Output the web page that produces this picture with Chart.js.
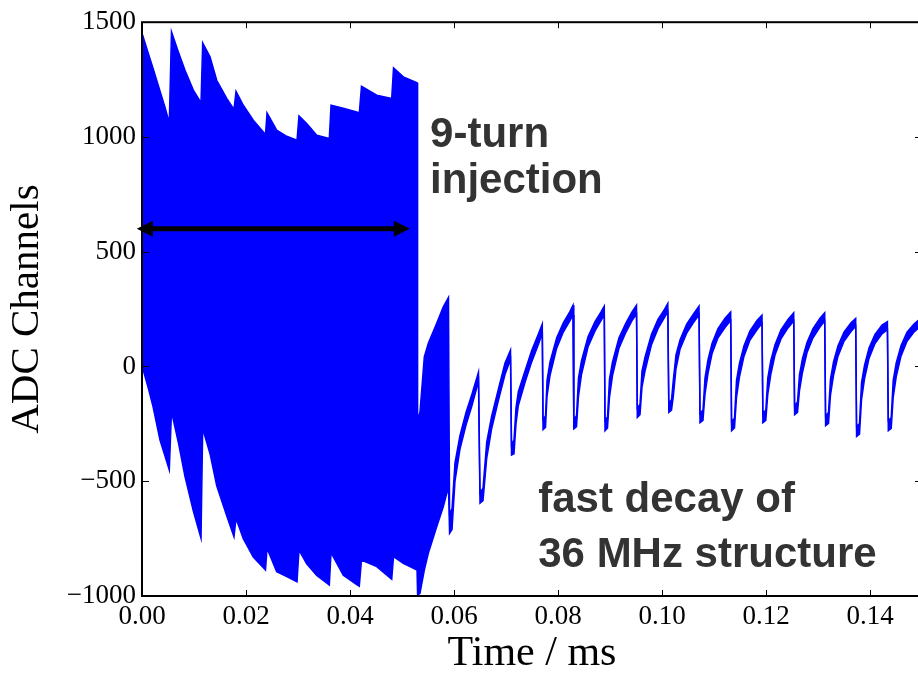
<!DOCTYPE html>
<html>
<head>
<meta charset="utf-8">
<script src="https://cdn.jsdelivr.net/npm/chart.js@4.4.1/dist/chart.umd.min.js"></script>
<style>
  html, body { margin: 0; padding: 0; overflow: hidden; background: #fff; }
  #wrap { width: 926px; height: 673px; }
</style>
</head>
<body>
<div id="wrap"><canvas id="myChart"></canvas></div>
<script>
// tick values
var xTicks = [0, 0.02, 0.04, 0.06, 0.08, 0.10, 0.12, 0.14];
var yTicks = [-1000, -500, 0, 500, 1000, 1500];

// time (ms) with upper / lower envelope of the ADC signal
var time = [
  // 9-turn injection
  0.0001, 0.00122, 0.00212, 0.00346, 0.00442, 0.00525, 0.00567, 0.00698, 0.00827, 0.00987, 0.01135,
  0.01167, 0.01308, 0.01437, 0.01629, 0.01769, 0.01808, 0.01948, 0.02140, 0.02375,
  0.02404, 0.02590, 0.02783, 0.02981, 0.03019, 0.03167, 0.03360, 0.03602, 0.03635,
  0.03871, 0.04129, 0.04179, 0.04221, 0.04514, 0.04802, 0.04837, 0.05025, 0.05289,
  // end of injection
  0.05300, 0.05346, 0.05429, 0.05506, 0.05667, 0.05794, 0.05894,
  // decay cycles
  0.05915, 0.05962, 0.06019, 0.06115, 0.06231, 0.06346, 0.06471,
  0.06500, 0.06558, 0.06629, 0.06725, 0.06852, 0.06981, 0.07087,
  0.07106, 0.07154, 0.07192, 0.07237, 0.07365, 0.07494, 0.07621, 0.07698,
  0.07712, 0.07760, 0.07789, 0.07846, 0.07975, 0.08102, 0.08231, 0.08289,
  0.08304, 0.08356, 0.08394, 0.08452, 0.08577, 0.08712, 0.08827, 0.08890,
  0.08904, 0.08952, 0.08990, 0.09048, 0.09173, 0.09308, 0.09423, 0.09510,
  0.09525, 0.09577, 0.09615, 0.09673, 0.09798, 0.09923, 0.10038, 0.10112,
  0.10131, 0.10183, 0.10217, 0.10269, 0.10346, 0.10475, 0.10602, 0.10712,
  0.10731, 0.10788, 0.10827, 0.10885, 0.10962, 0.11077, 0.11212, 0.11321,
  0.11338, 0.11394, 0.11433, 0.11490, 0.11577, 0.11692, 0.11827, 0.11923,
  0.11940, 0.11996, 0.12035, 0.12092, 0.12173, 0.12288, 0.12423, 0.12533,
  0.12550, 0.12606, 0.12644, 0.12702, 0.12788, 0.12904, 0.13038, 0.13129,
  0.13146, 0.13202, 0.13240, 0.13298, 0.13385, 0.13500, 0.13635, 0.13725,
  0.13742, 0.13798, 0.13837, 0.13894, 0.13981, 0.14096, 0.14231, 0.14335,
  0.14352, 0.14408, 0.14446, 0.14504, 0.14596, 0.14712, 0.14846, 0.14923, 0.15000
];

var upper = [
  1445, 1364, 1300, 1200, 1130, 1061, 1458, 1371, 1291, 1204, 1149,
  1410, 1349, 1247, 1168, 1120, 1199, 1138, 1073, 1011,
  1105, 1030, 1003, 986, 1092, 1059, 1008, 993, 1138,
  1125, 1109, 1105, 1221, 1182, 1168, 1301, 1262, 1236,
  -241, -197, 42, 101, 188, 260, 301,
  -640, -620, -420, -300, -200, -120, -25,
  -550, -530, -330, -215, -100, 15, 71,
  -340, -320, -180, -110, -20, 70, 140, 185,
  -230, -215, -60, 20, 125, 190, 240, 267,
  -230, -215, -50, 25, 130, 195, 238, 263,
  -235, -220, -55, 20, 125, 190, 238, 267,
  -180, -165, -20, 40, 140, 205, 245, 275,
  -160, -145, -60, 50, 115, 185, 228, 263,
  -205, -190, -50, 30, 100, 165, 210, 238,
  -240, -225, -60, 15, 90, 155, 200, 224,
  -205, -190, -50, 25, 95, 160, 205, 234,
  -170, -155, -35, 35, 105, 165, 210, 234,
  -215, -200, -55, 20, 90, 150, 190, 209,
  -262, -248, -70, 5, 80, 140, 180, 195,
  -235, -222, -60, 15, 90, 150, 185, 200, 212
];

var lower = [
  -5, -95, -175, -321, -390, -451, -197, -330, -480, -630, -749,
  -270, -380, -520, -650, -742, -662, -750, -830, -887,
  -792, -894, -915, -938, -800, -860, -910, -952, -811,
  -909, -950, -957, -843, -872, -927, -829, -858, -887,
  -996, -988, -887, -814, -698, -611, -524,
  -727, -710, -500, -360, -255, -170, -65,
  -596, -585, -400, -270, -150, -35, 30,
  -386, -380, -250, -170, -70, 20, 95, 145,
  -275, -265, -130, -40, 80, 150, 200, 225,
  -272, -262, -130, -35, 85, 155, 200, 225,
  -280, -268, -135, -40, 80, 150, 200, 228,
  -222, -210, -90, -20, 95, 165, 210, 238,
  -200, -190, -132, -10, 75, 145, 190, 225,
  -245, -235, -120, -30, 55, 125, 170, 200,
  -280, -268, -135, -45, 45, 115, 160, 188,
  -245, -235, -120, -35, 50, 120, 168, 198,
  -210, -200, -105, -25, 60, 125, 172, 198,
  -258, -248, -125, -40, 45, 110, 152, 175,
  -305, -295, -145, -55, 35, 100, 142, 160,
  -280, -270, -135, -45, 45, 110, 150, 165, 177
];

// annotations
var arrowSpan = [-0.001, 0.0515];
var arrowLevel = 600;
var notes = [
  { text: '9-turn', x: 0.0554, y: 957 },
  { text: 'injection', x: 0.0554, y: 755 },
  { text: 'fast decay of', x: 0.0762, y: -633 },
  { text: '36 MHz structure', x: 0.0762, y: -872 }
];

var serif = '"Liberation Serif", "Times New Roman", serif';

function fmtY(v) {
  return v < 0 ? '\u2212' + Math.abs(v) : String(v);
}

var framePlugin = {
  id: 'frame',
  afterDraw: function(chart) {
    var ctx = chart.ctx;
    var a = chart.chartArea;
    var xs = chart.scales.x, ys = chart.scales.y;
    ctx.save();
    ctx.strokeStyle = '#000';
    // ticks
    ctx.lineWidth = 1;
    ctx.beginPath();
    xTicks.forEach(function(v) {
      var px = Math.round(xs.getPixelForValue(v)) + 0.5;
      ctx.moveTo(px, a.bottom); ctx.lineTo(px, a.bottom - 6);
      ctx.moveTo(px, a.top); ctx.lineTo(px, a.top + 6);
    });
    yTicks.forEach(function(v) {
      var py = Math.round(ys.getPixelForValue(v)) + 0.5;
      ctx.moveTo(a.left, py); ctx.lineTo(a.left + 7, py);
      ctx.moveTo(a.right, py); ctx.lineTo(a.right - 7, py);
    });
    ctx.stroke();
    // frame
    ctx.lineWidth = 2;
    ctx.strokeRect(a.left, a.top, a.right - a.left, a.bottom - a.top);

    // double arrow
    var x1 = xs.getPixelForValue(arrowSpan[0]);
    var x2 = xs.getPixelForValue(arrowSpan[1]);
    var y = ys.getPixelForValue(arrowLevel);
    var hl = 16, hw = 8;
    ctx.lineWidth = 5;
    ctx.beginPath();
    ctx.moveTo(x1 + hl - 2, y); ctx.lineTo(x2 - hl + 2, y);
    ctx.stroke();
    ctx.fillStyle = '#000';
    ctx.beginPath();
    ctx.moveTo(x1, y); ctx.lineTo(x1 + hl, y - hw); ctx.lineTo(x1 + hl, y + hw); ctx.closePath();
    ctx.moveTo(x2, y); ctx.lineTo(x2 - hl, y - hw); ctx.lineTo(x2 - hl, y + hw); ctx.closePath();
    ctx.fill();

    // text notes
    ctx.fillStyle = '#333333';
    ctx.font = 'bold 42px "Liberation Sans", Arial, sans-serif';
    ctx.textAlign = 'left';
    ctx.textBaseline = 'alphabetic';
    notes.forEach(function(n) {
      ctx.fillText(n.text, xs.getPixelForValue(n.x), ys.getPixelForValue(n.y));
    });
    ctx.restore();
  }
};

function getChart() {
  var upperPts = time.map(function(t, i) { return { x: t, y: upper[i] }; });
  var lowerPts = time.map(function(t, i) { return { x: t, y: lower[i] }; });

  var ctx = document.getElementById('myChart').getContext('2d');
  var myChart = new Chart(ctx, {
    type: 'line',
    data: {
      datasets: [{
        label: 'upper',
        data: upperPts,
        borderColor: '#0000ff',
        borderWidth: 1.5,
        pointRadius: 0,
        fill: false,
        tension: 0
      }, {
        label: 'lower',
        data: lowerPts,
        borderColor: '#0000ff',
        backgroundColor: '#0000ff',
        borderWidth: 1.5,
        pointRadius: 0,
        fill: '-1',
        tension: 0
      }]
    },
    options: {
      responsive: true,
      maintainAspectRatio: false,
      animation: false,
      layout: { padding: { left: 0, top: 22, right: 4, bottom: 0 } },
      plugins: {
        legend: { display: false },
        tooltip: { enabled: false }
      },
      scales: {
        x: {
          type: 'linear',
          min: 0,
          max: 0.15,
          grid: { display: false, drawTicks: false },
          border: { display: false },
          afterBuildTicks: function(scale) {
            scale.ticks = xTicks.map(function(v) { return { value: v }; });
          },
          afterFit: function(scale) { scale.height = 77; },
          ticks: {
            padding: 5,
            color: '#000',
            font: { family: serif, size: 27 },
            callback: function(v) { return Number(v).toFixed(2); }
          },
          title: {
            display: true,
            text: 'Time / ms',
            color: '#000',
            font: { family: serif, size: 42, lineHeight: 0.9 },
            padding: { top: 0, bottom: 0 }
          }
        },
        y: {
          min: -1000,
          max: 1500,
          grid: { display: false, drawTicks: false },
          border: { display: false },
          afterBuildTicks: function(scale) {
            scale.ticks = yTicks.map(function(v) { return { value: v }; });
          },
          afterFit: function(scale) { scale.width = 142; },
          ticks: {
            padding: 6,
            color: '#000',
            font: { family: serif, size: 27 },
            callback: function(v) { return fmtY(v); }
          },
          title: {
            display: true,
            text: 'ADC Channels',
            color: '#000',
            font: { family: serif, size: 41, lineHeight: 0.9 },
            padding: { top: 9, bottom: 0 }
          }
        }
      }
    },
    plugins: [framePlugin]
  });
}

getChart();
</script>
</body>
</html>
